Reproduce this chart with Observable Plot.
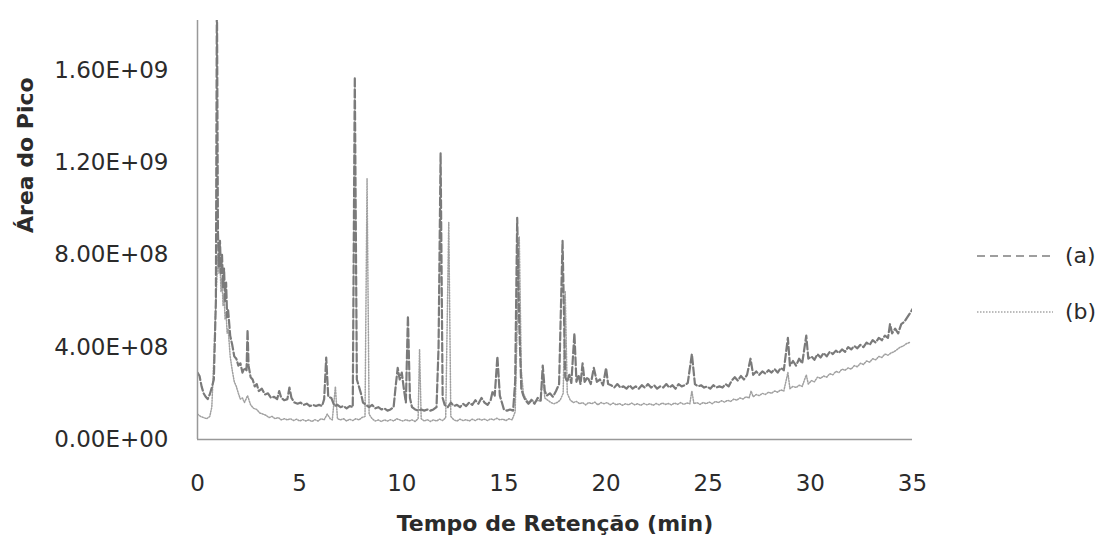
<!DOCTYPE html>
<html>
<head>
<meta charset="utf-8">
<script src="https://cdn.jsdelivr.net/npm/d3@7"></script>
<script src="https://cdn.jsdelivr.net/npm/@observablehq/plot@0.6"></script>
<style>
  html, body { margin: 0; padding: 0; background: #fff; }
  #wrap { position: relative; width: 1100px; height: 541px; overflow: hidden; font-family: "DejaVu Sans", sans-serif; color: #2b2b2b; }
  #chart { position: absolute; left: 0; top: 0; }
  .leg { position: absolute; left: 975px; display: flex; align-items: center; font-size: 22px; color: #2b2b2b; }
  .leg svg { margin-right: 10px; }
</style>
</head>
<body>
<div id="wrap">
  <div id="chart"></div>
  <div class="leg" style="top:243px"><svg width="80" height="6"><line x1="2" y1="3" x2="78" y2="3" stroke="#7f7f7f" stroke-width="1.5" stroke-dasharray="8,5"/></svg><span>(a)</span></div>
  <div class="leg" style="top:299px"><svg width="80" height="6"><line x1="2" y1="3" x2="78" y2="3" stroke="#a6a6a6" stroke-width="1.5" stroke-dasharray="1.5,1.5"/></svg><span>(b)</span></div>
</div>
<script>
// Retention time (min) and peak area (in units of 1E+08) for each series
const timeA = [0.0,0.1,0.2,0.3,0.4,0.5,0.6,0.7,0.8,0.9,0.95,1.0,1.05,1.1,1.15,1.2,1.25,1.3,1.35,1.4,1.45,1.5,1.6,1.7,1.8,1.9,2.0,2.1,2.2,2.3,2.4,2.45,2.5,2.6,2.7,2.8,2.9,3.0,3.15,3.3,3.45,3.6,3.75,3.9,4.0,4.1,4.25,4.4,4.5,4.6,4.75,4.9,5.05,5.2,5.35,5.5,5.65,5.8,5.95,6.1,6.2,6.3,6.4,6.55,6.7,6.85,7.0,7.15,7.3,7.45,7.6,7.7,7.8,7.9,8.0,8.1,8.25,8.4,8.55,8.7,8.85,9.0,9.15,9.3,9.45,9.6,9.7,9.8,9.9,10.0,10.1,10.2,10.3,10.4,10.5,10.65,10.8,10.95,11.1,11.25,11.4,11.55,11.7,11.8,11.9,12.0,12.1,12.25,12.4,12.55,12.7,12.85,13.0,13.15,13.3,13.45,13.6,13.75,13.9,14.05,14.2,14.35,14.45,14.55,14.68,14.8,14.9,15.0,15.15,15.3,15.45,15.55,15.65,15.75,15.85,15.95,16.05,16.2,16.35,16.5,16.65,16.8,16.9,17.0,17.1,17.25,17.4,17.55,17.7,17.87,18.0,18.1,18.2,18.3,18.45,18.55,18.65,18.75,18.85,18.95,19.1,19.25,19.4,19.55,19.7,19.85,20.0,20.1,20.25,20.4,20.55,20.7,20.85,21.0,21.15,21.3,21.45,21.6,21.75,21.9,22.05,22.2,22.35,22.5,22.65,22.8,22.95,23.1,23.25,23.4,23.55,23.7,23.85,24.0,24.2,24.35,24.5,24.65,24.8,24.95,25.1,25.25,25.4,25.55,25.7,25.85,26.0,26.15,26.3,26.45,26.6,26.75,26.9,27.07,27.2,27.35,27.5,27.65,27.8,27.95,28.1,28.25,28.4,28.55,28.7,28.9,29.0,29.15,29.3,29.45,29.6,29.8,29.9,30.05,30.2,30.35,30.5,30.65,30.8,30.95,31.1,31.25,31.4,31.55,31.7,31.85,32.0,32.15,32.3,32.45,32.6,32.75,32.9,33.05,33.2,33.35,33.5,33.65,33.8,33.9,34.0,34.15,34.3,34.45,34.6,34.75,34.9,35.0];
const areaA = [2.9,2.75,2.3,2.0,1.85,1.75,1.95,2.25,2.6,6.0,19.5,9.0,7.5,8.6,7.2,8.0,6.6,7.4,6.0,6.8,5.3,5.6,4.5,4.1,3.6,3.5,3.2,3.3,2.9,3.1,3.0,4.75,3.2,2.7,2.6,2.3,2.4,2.1,2.2,1.95,2.0,1.8,1.85,1.75,2.1,1.8,1.7,1.75,2.25,1.8,1.6,1.55,1.6,1.5,1.55,1.45,1.5,1.45,1.5,1.45,1.75,3.55,1.85,1.8,1.45,1.5,1.4,1.45,1.35,1.45,1.4,15.7,2.6,2.3,2.0,1.6,1.5,1.4,1.5,1.35,1.4,1.3,1.35,1.25,1.3,1.4,2.3,3.1,2.6,2.9,2.2,1.6,5.35,1.8,1.4,1.3,1.25,1.3,1.25,1.3,1.25,1.3,1.4,4.0,12.4,1.8,1.5,1.4,1.6,1.45,1.5,1.4,1.55,1.45,1.6,1.5,1.7,1.55,1.8,1.6,1.5,1.7,2.1,1.9,3.6,1.9,1.6,1.3,1.25,1.3,1.25,2.5,9.6,5.0,2.2,1.9,1.7,1.55,1.7,1.55,1.8,1.7,3.2,2.1,1.9,2.0,1.85,2.1,2.4,8.6,2.7,2.5,2.8,2.45,4.6,2.5,2.8,2.4,3.3,2.5,2.7,2.4,3.1,2.5,2.6,2.35,3.1,2.4,2.35,2.25,2.4,2.25,2.3,2.2,2.35,2.2,2.3,2.2,2.35,2.25,2.4,2.25,2.35,2.2,2.3,2.25,2.4,2.25,2.35,2.2,2.4,2.3,2.35,2.45,3.7,2.4,2.3,2.35,2.25,2.3,2.2,2.35,2.25,2.3,2.25,2.4,2.3,2.55,2.7,2.55,2.75,2.6,2.8,3.5,2.8,2.95,2.8,2.95,2.85,3.0,2.9,3.05,2.9,3.1,3.0,4.4,3.2,3.4,3.2,3.5,3.3,4.5,3.5,3.6,3.45,3.7,3.55,3.75,3.6,3.8,3.7,3.85,3.75,3.9,3.8,4.0,3.9,4.05,3.95,4.1,4.0,4.2,4.1,4.3,4.2,4.4,4.3,4.5,4.4,5.0,4.6,4.8,4.6,5.0,5.1,5.3,5.5,5.65];

const timeB = [0.0,0.15,0.3,0.45,0.6,0.7,0.8,0.9,1.0,1.05,1.1,1.15,1.2,1.25,1.3,1.35,1.4,1.45,1.5,1.6,1.7,1.8,1.9,2.0,2.1,2.2,2.3,2.45,2.6,2.75,2.9,3.05,3.2,3.35,3.5,3.65,3.8,3.95,4.1,4.25,4.4,4.55,4.7,4.85,5.0,5.15,5.3,5.45,5.6,5.75,5.9,6.05,6.2,6.35,6.5,6.6,6.75,6.85,7.0,7.15,7.3,7.45,7.6,7.75,7.9,8.05,8.2,8.3,8.4,8.55,8.7,8.85,9.0,9.15,9.3,9.45,9.6,9.75,9.9,10.05,10.2,10.35,10.5,10.65,10.8,10.87,10.95,11.1,11.25,11.4,11.55,11.7,11.85,12.0,12.15,12.3,12.4,12.55,12.7,12.85,13.0,13.15,13.3,13.45,13.6,13.75,13.9,14.05,14.2,14.35,14.5,14.65,14.8,14.95,15.1,15.25,15.4,15.55,15.65,15.75,15.85,15.95,16.05,16.2,16.35,16.5,16.65,16.8,16.9,17.0,17.15,17.3,17.45,17.6,17.75,17.9,18.0,18.1,18.25,18.4,18.55,18.7,18.85,19.0,19.15,19.3,19.45,19.6,19.75,19.9,20.05,20.2,20.35,20.5,20.65,20.8,20.95,21.1,21.25,21.4,21.55,21.7,21.85,22.0,22.15,22.3,22.45,22.6,22.75,22.9,23.05,23.2,23.35,23.5,23.65,23.8,23.95,24.1,24.2,24.3,24.45,24.6,24.75,24.9,25.05,25.2,25.35,25.5,25.65,25.8,25.95,26.1,26.25,26.4,26.55,26.7,26.85,27.0,27.1,27.2,27.35,27.5,27.65,27.8,27.95,28.1,28.25,28.4,28.55,28.7,28.9,29.0,29.15,29.3,29.45,29.6,29.8,29.9,30.05,30.2,30.35,30.5,30.65,30.8,30.95,31.1,31.25,31.4,31.55,31.7,31.85,32.0,32.15,32.3,32.45,32.6,32.75,32.9,33.05,33.2,33.35,33.5,33.65,33.8,33.95,34.1,34.25,34.4,34.55,34.7,34.85,35.0];
const areaB = [1.1,1.0,0.95,0.9,1.0,1.4,3.5,6.0,8.0,7.2,7.7,6.4,7.0,5.8,6.3,5.2,5.5,4.6,4.8,3.6,3.0,2.5,2.3,2.0,1.75,1.8,1.6,1.9,1.5,1.35,1.3,1.15,1.1,1.05,0.95,1.0,0.9,0.95,0.85,0.9,0.85,0.9,0.82,0.88,0.8,0.86,0.8,0.85,0.78,0.86,0.8,0.9,0.85,1.1,0.9,0.85,2.3,0.9,0.85,0.9,0.8,0.88,0.82,0.9,0.85,0.95,1.0,11.3,1.1,0.9,0.8,0.85,0.78,0.85,0.8,0.86,0.8,0.9,0.85,0.8,0.86,0.8,0.85,0.78,0.9,3.9,0.9,0.8,0.86,0.78,0.85,0.8,0.88,0.82,0.95,9.4,1.0,0.85,0.8,0.88,0.82,0.86,0.8,0.88,0.82,0.9,0.84,0.88,0.82,0.9,0.85,0.92,0.85,0.88,0.82,0.9,0.85,1.2,5.0,8.8,3.0,2.0,1.8,1.6,1.75,1.6,1.7,1.65,2.9,1.8,1.7,1.6,1.55,1.6,1.7,2.0,6.4,2.0,1.7,1.6,1.65,1.55,1.6,1.5,1.6,1.55,1.62,1.5,1.6,1.55,1.6,1.5,1.58,1.5,1.56,1.48,1.55,1.5,1.58,1.5,1.55,1.48,1.56,1.5,1.55,1.48,1.56,1.5,1.58,1.52,1.56,1.5,1.58,1.52,1.6,1.52,1.58,1.55,2.1,1.55,1.6,1.52,1.6,1.55,1.62,1.55,1.65,1.6,1.68,1.62,1.7,1.65,1.75,1.7,1.8,1.75,1.85,1.8,2.1,1.85,1.95,1.9,2.0,1.95,2.05,2.0,2.1,2.05,2.15,2.1,2.9,2.2,2.3,2.25,2.35,2.3,2.8,2.4,2.55,2.5,2.7,2.65,2.75,2.7,2.85,2.8,2.95,2.9,3.05,3.0,3.1,3.05,3.2,3.15,3.3,3.25,3.4,3.35,3.5,3.45,3.6,3.55,3.7,3.65,3.75,3.8,3.9,4.0,4.05,4.15,4.2];

const yTicks = [0, 4e8, 8e8, 1.2e9, 1.6e9];
const xTicks = [0, 5, 10, 15, 20, 25, 30, 35];
const xTitle = "Tempo de Retenção (min)";
const yTitle = "Área do Pico";

const rowsA = timeA.map((t, i) => ({t, v: areaA[i] * 1e8}));
const rowsB = timeB.map((t, i) => ({t, v: areaB[i] * 1e8}));

function sci(d) {
  if (d === 0) return "0.00E+00";
  const e = Math.floor(Math.log10(d) + 1e-9);
  const m = d / Math.pow(10, e);
  return m.toFixed(2) + "E+" + String(e).padStart(2, "0");
}

const chart = Plot.plot({
  width: 940,
  height: 541,
  marginLeft: 197,
  marginRight: 28,
  marginTop: 20,
  marginBottom: 102,
  style: {fontFamily: "DejaVu Sans", fontSize: "23px", color: "#2b2b2b", background: "white", overflow: "visible"},
  x: {domain: [0, 35]},
  y: {domain: [0, 1.815e9]},
  marks: [
    Plot.line(rowsB, {x: "t", y: "v", stroke: "#a0a0a0", strokeWidth: 1.5, strokeDasharray: "1.2,1.5", clip: true}),
    Plot.line(rowsA, {x: "t", y: "v", stroke: "#7a7a7a", strokeWidth: 2.2, strokeDasharray: "8,3", clip: true}),
    Plot.ruleX([0], {stroke: "#999", strokeWidth: 1.5}),
    Plot.ruleY([0], {stroke: "#999", strokeWidth: 1.5}),
    Plot.axisY({ticks: yTicks, tickFormat: sci, tickSize: 0, tickPadding: 29, label: null, fontSize: 23}),
    Plot.axisX({ticks: xTicks, tickFormat: d => String(d), tickSize: 0, tickPadding: 35, label: null, fontSize: 23}),
    Plot.text([xTitle], {frameAnchor: "bottom", dy: 91, fontWeight: "bold", fontSize: 22, fill: "#2b2b2b"}),
    Plot.text([yTitle], {frameAnchor: "left", rotate: -90, dx: -172, dy: 3, fontWeight: "bold", fontSize: 22, fill: "#2b2b2b"})
  ]
});
document.getElementById("chart").appendChild(chart);
</script>
</body>
</html>
